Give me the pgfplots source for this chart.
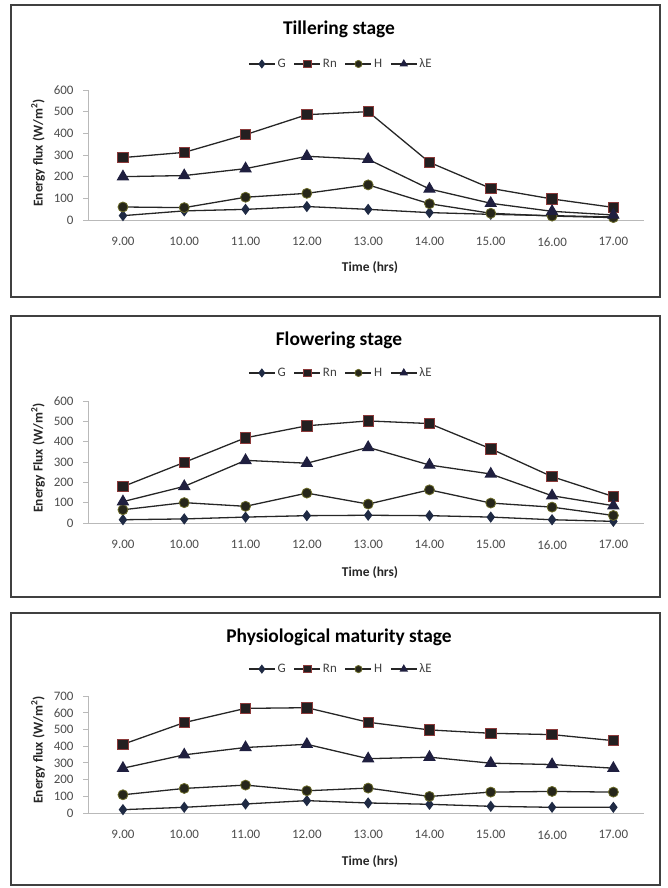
\documentclass[border=0pt]{standalone}
\usepackage{fontspec}
\setmainfont{Carlito}
\usepackage{pgfplots}
\usepackage{pgfplotstable}
\pgfplotsset{compat=1.18}

\definecolor{lncol}{HTML}{262626}
\definecolor{gcol}{HTML}{1F2A44}
\definecolor{rnfill}{HTML}{231F20}
\definecolor{rnedge}{HTML}{8B3A3A}
\definecolor{hfill}{HTML}{26261A}
\definecolor{hedge}{HTML}{6B6B2A}
\definecolor{lefill}{HTML}{1F1F3F}
\definecolor{framecol}{HTML}{404040}

% tillering stage
\pgfplotstableread{
t  G   Rn   H    LE
9  20  288  60   200
10 42  312  57   205
11 49  394  105  237
12 62  486  123  294
13 49  500  162  280
14 34  266  75   143
15 26  146  31   77
16 20  97   18   40
17 14  58   11   23
}\tillering
% flowering stage
\pgfplotstableread{
t  G   Rn   H    LE
9  16  179  65   105
10 20  298  100  180
11 29  419  82   308
12 36  478  147  294
13 38  502  93   372
14 36  489  163  285
15 29  365  98   241
16 16  228  78   134
17 8   130  37   85
}\flowering
% physiological maturity stage
\pgfplotstableread{
t  G   Rn   H    LE
9  20  411  109  268
10 34  541  147  348
11 54  626  167  392
12 74  630  133  411
13 60  543  149  325
14 52  497  99   334
15 40  477  125  298
16 34  469  129  290
17 34  433  125  268
}\maturity

\newcommand{\tickfont}{\fontsize{13}{15}\selectfont}
\newcommand{\titlefont}{\bfseries\fontsize{19.5}{22}\selectfont}
\newcommand{\labfont}{\bfseries\fontsize{13.5}{15}\selectfont}

\pgfplotsset{
  fluxax/.style={
    scale only axis, width=556bp,
    xmin=8.43, xmax=17.5, ymin=0,
    axis x line=bottom, axis y line=left,
    axis line style={draw=gray!55, line width=0.8bp, -},
    xtick={9,...,17},
    xticklabels={9.00,10.00,11.00,12.00,13.00,14.00,15.00,16.00,17.00},
    x tick style={draw=none},
    ytick distance=100,
    y tick style={draw=gray!55, line width=0.8bp},
    tick align=outside, major tick length=5bp,
    tick label style={font=\tickfont, text=black!70},
    /pgf/number format/assume math mode=true,
    xticklabel style={yshift=-9bp},
    yticklabel style={xshift=-6bp},
    clip=false,
    legend columns=4,
    legend style={draw=none, fill=none, font=\tickfont, text=black!75,
      anchor=center, /tikz/every even column/.append style={column sep=6bp}},
    legend image code/.code={
      \draw[mark repeat=2, mark phase=2, #1, mark size=3.6bp]
        plot coordinates {(0bp,0bp) (13bp,0bp) (26bp,0bp)};
    },
  },
  gser/.style={line width=1.3bp, color=lncol, mark=diamond*, mark size=4.6bp,
    mark options={fill=gcol, draw=gcol}},
  rnser/.style={line width=1.3bp, color=lncol, mark=square*, mark size=5.2bp,
    mark options={fill=rnfill, draw=rnedge, line width=0.8bp}},
  hser/.style={line width=1.3bp, color=lncol, mark=*, mark size=5bp,
    mark options={fill=hfill, draw=hedge, line width=0.8bp}},
  leser/.style={line width=1.3bp, color=lncol, mark=triangle*, mark size=6bp,
    mark options={fill=lefill, draw=lefill}},
}

\newcommand{\plotset}[1]{%
  \addplot[gser] table[x=t, y=G] {#1};
  \addlegendentry{G}
  \addplot[rnser] table[x=t, y=Rn] {#1};
  \addlegendentry{Rn}
  \addplot[hser] table[x=t, y=H] {#1};
  \addlegendentry{H}
  \addplot[leser] table[x=t, y=LE] {#1};
  \addlegendentry{λE}
}

\begin{document}
\begin{tikzpicture}[x=1bp, y=1bp]
\useasboundingbox (0,0) rectangle (668,888);

% frames
\draw[line width=2bp, framecol] (11,591) rectangle (660,883);
\draw[line width=2bp, framecol] (11,291) rectangle (660,572);
\draw[line width=2bp, framecol] (11,3) rectangle (660,275);

% --- Tillering stage
\begin{axis}[fluxax, at={(88bp,668bp)}, anchor=south west,
    height=130bp, ymax=600,
    legend style={at={(0.455,1.2)}}]
\plotset{\tillering}
\end{axis}
\node[font=\titlefont] at (339,859) {Tillering stage};
\node[font=\labfont, text=black!85] at (370,620) {Time (hrs)};
\node[font=\labfont, text=black!85, rotate=90] at (38,735) {Energy flux (W/m\textsuperscript{2})};

% --- Flowering stage
\begin{axis}[fluxax, at={(88bp,365bp)}, anchor=south west,
    height=122bp, ymax=600,
    legend style={at={(0.455,1.23)}}]
\plotset{\flowering}
\end{axis}
\node[font=\titlefont] at (339,548) {Flowering stage};
\node[font=\labfont, text=black!85] at (370,315) {Time (hrs)};
\node[font=\labfont, text=black!85, rotate=90] at (38,430) {Energy Flux (W/m\textsuperscript{2})};

% --- Physiological maturity stage
\begin{axis}[fluxax, at={(88bp,75bp)}, anchor=south west,
    height=117bp, ymax=700,
    legend style={at={(0.455,1.23)}}]
\plotset{\maturity}
\end{axis}
\node[font=\titlefont] at (339,251) {Physiological maturity stage};
\node[font=\labfont, text=black!85] at (370,26) {Time (hrs)};
\node[font=\labfont, text=black!85, rotate=90] at (38,138) {Energy flux (W/m\textsuperscript{2})};
\end{tikzpicture}
\end{document}
